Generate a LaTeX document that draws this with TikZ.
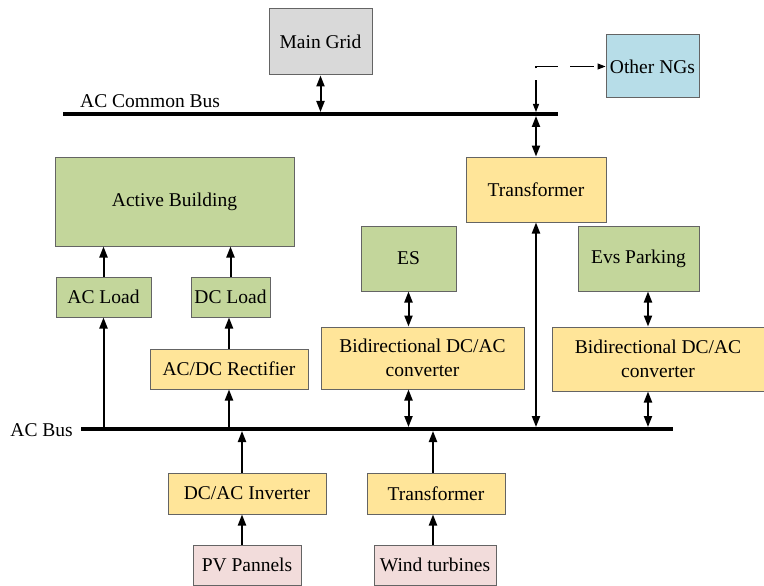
\documentclass[tikz,border=0pt]{standalone}
\usepackage{fontspec}
\setmainfont{Liberation Serif}
\usepackage{xcolor}
\usepackage{tikz}
\usetikzlibrary{positioning, arrows.meta}
\usetikzlibrary{calc}

\definecolor{gridgray}{RGB}{217,217,217}
\definecolor{ngblue}{RGB}{183,221,232}
\definecolor{loadgreen}{RGB}{195,214,155}
\definecolor{convyellow}{RGB}{255,229,153}
\definecolor{srcpink}{RGB}{242,220,219}
\definecolor{edgegray}{RGB}{100,100,100}

\begin{document}
\begin{tikzpicture}[
        x=1pt, y=-1pt,
        font=\fontsize{19.5}{24}\selectfont,
        block/.style={rectangle, draw=edgegray, line width=1pt, text centered, align=center, inner sep=2pt},
        gridbox/.style={block, fill=gridgray},
        ngbox/.style={block, fill=ngblue},
        loadbox/.style={block, fill=loadgreen},
        convbox/.style={block, fill=convyellow},
        srcbox/.style={block, fill=srcpink},
        arrow/.style={line width=2pt, -{Triangle[length=11pt, width=8pt]}},
        dblarrow/.style={line width=2pt, {Triangle[length=11pt, width=8pt]}-{Triangle[length=11pt, width=8pt]}},
        ngarrow/.style={line width=1.2pt, dash pattern=on 24pt off 12pt, {Triangle[length=8pt, width=6pt]}-{Triangle[length=8pt, width=6pt]}},
        busline/.style={line width=4.5pt}
    ]
        \useasboundingbox (0,0) rectangle (764,586);

        % ===== 上层电网 =====
        \node (mainGrid) [gridbox, minimum width=103pt, minimum height=66pt] at (320.5,42) {Main Grid};
        \node (otherNGs) [ngbox, minimum width=93pt, minimum height=63pt] at (652.5,66.5) {Other NGs};
        \node (topTrans) [convbox, minimum width=140pt, minimum height=65pt] at (536,189.5) {Transformer};

        % ===== 负荷与储能 =====
        \node (building) [loadbox, minimum width=239pt, minimum height=89pt] at (174.5,201.5) {Active Building};
        \node (acLoad) [loadbox, minimum width=95pt, minimum height=40pt] at (103.5,297) {AC Load};
        \node (dcLoad) [loadbox, minimum width=79pt, minimum height=40pt] at (230.5,297) {DC Load};
        \node (rectifier) [convbox, minimum width=158pt, minimum height=40pt] at (229,369) {AC/DC Rectifier};
        \node (es) [loadbox, minimum width=95pt, minimum height=65pt] at (408.5,258.5) {ES};
        \node (convES) [convbox, minimum width=203pt, minimum height=62pt] at (422.5,358) {Bidirectional DC/AC\\converter};
        \node (evs) [loadbox, minimum width=121pt, minimum height=65pt] at (638.5,258.5) {Evs Parking};
        \node (convEV) [convbox, minimum width=212pt, minimum height=64pt] at (658,359) {Bidirectional DC/AC\\converter};

        % ===== 分布式电源 =====
        \node (inverter) [convbox, minimum width=158pt, minimum height=41pt] at (247,493.5) {DC/AC Inverter};
        \node (botTrans) [convbox, minimum width=138pt, minimum height=41pt] at (436,493.5) {Transformer};
        \node (pv) [srcbox, minimum width=108pt, minimum height=40pt] at (247,565) {PV Pannels};
        \node (wind) [srcbox, minimum width=122pt, minimum height=40pt] at (435,565) {Wind turbines};

        % ===== 母线 =====
        \coordinate (commonBusL) at (63,114);
        \coordinate (commonBusR) at (558,114);
        \coordinate (acBusL) at (81,429);
        \coordinate (acBusR) at (673,429);
        \coordinate (evLink) at (648,0);
        \coordinate (pvLink) at (242,0);
        \coordinate (windLink) at (433,0);

        \node (commonBusLabel) [anchor=base west, inner sep=0pt] at (80,107) {AC Common Bus};
        \node (acBusLabel) [anchor=base east, inner sep=0pt] at (73,436) {AC Bus};
        \draw [busline] (commonBusL) -- (commonBusR);
        \draw [busline] (acBusL) -- (acBusR);

        % ===== 上层连接 =====
        \draw [dblarrow, shorten >=2pt] (mainGrid.south) -- (mainGrid.south |- commonBusL);
        \draw [ngarrow, shorten <=2pt] (topTrans.north |- commonBusL) |- (otherNGs.west);
        \draw [dblarrow, shorten <=2pt] (topTrans.north |- commonBusL) -- (topTrans.north);
        \draw [dblarrow, shorten >=2pt] (topTrans.south) -- (topTrans.south |- acBusL);

        % ===== 负荷侧 =====
        \draw [arrow] (acLoad.north) -- (acLoad.north |- building.south);
        \draw [arrow] (dcLoad.north) -- (dcLoad.north |- building.south);
        \draw [arrow] (rectifier.north) -- (rectifier.north |- dcLoad.south);
        \draw [arrow, shorten <=2pt] (acLoad.south |- acBusL) -- (acLoad.south);
        \draw [arrow, shorten <=2pt] (rectifier.south |- acBusL) -- (rectifier.south);

        % 储能与充电桩
        \draw [dblarrow] (es.south) -- (es.south |- convES.north);
        \draw [dblarrow, shorten >=2pt] (es.south |- convES.south) -- (es.south |- acBusL);
        \draw [dblarrow] (evLink |- evs.south) -- (evLink |- convEV.north);
        \draw [dblarrow, shorten >=2pt] (evLink |- convEV.south) -- (evLink |- acBusL);

        % ===== 电源侧 =====
        \draw [arrow] (pvLink |- pv.north) -- (pvLink |- inverter.south);
        \draw [arrow, shorten >=2pt] (pvLink |- inverter.north) -- (pvLink |- acBusL);
        \draw [arrow] (windLink |- wind.north) -- (windLink |- botTrans.south);
        \draw [arrow, shorten >=2pt] (windLink |- botTrans.north) -- (windLink |- acBusL);

    \end{tikzpicture}
\end{document}
